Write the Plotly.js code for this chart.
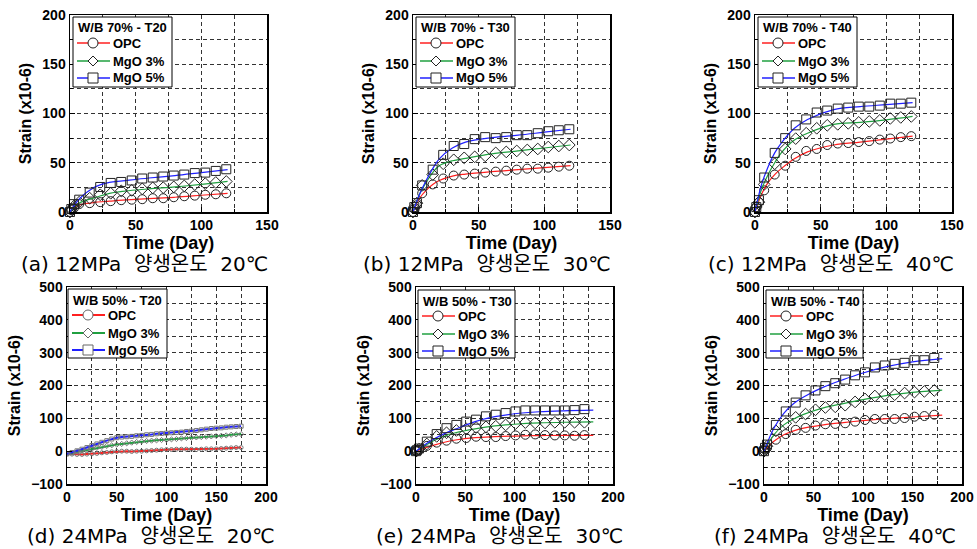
<!DOCTYPE html>
<html><head><meta charset="utf-8">
<script src="https://cdn.plot.ly/plotly-3.0.1.min.js"></script>
<style>body{margin:0;background:#fff}#c{width:977px;height:549px}</style>
</head><body><div id="c"></div>
<script>
// ---------- DATA ----------
// Top row (W/B 70%): marker times and fit-curve times (days)
const tTop   = [0, 1, 3, 7, 15, 23, 31, 39, 47, 55, 63, 71, 79, 87, 95, 103, 111, 119];
const fitTop = [0, 5, 10, 15, 20, 30, 40, 60, 80, 100, 120];
// (a) T20
const aOPC = [0, 2, 4, 8, 9, 10, 11, 12, 12.5, 13, 14, 14, 15, 16, 16.6, 17.5, 18, 19];
const aMg3 = [0, 3, 6, 10, 14, 17.5, 19, 21.5, 22, 23.5, 24.5, 24.7, 25.5, 26.5, 27.8, 28.8, 30, 31];
const aMg5 = [0, 3, 8, 12.5, 19.7, 25.4, 29.5, 30.5, 32, 34, 35, 36, 37, 38, 39.5, 40, 41.7, 43.4];
const aFitOPC = [0, 6, 8, 9, 10, 11, 12, 13.5, 15, 17, 19];
const aFitMg3 = [0, 7, 11, 13, 15, 19, 21, 23.5, 25.5, 28, 31];
const aFitMg5 = [0, 10, 17, 22, 26, 30, 31.5, 34.5, 37, 40, 43];
// (b) T30
const bOPC = [0, 3, 7, 19, 28, 34, 37, 38, 39, 40, 41, 42, 43, 44, 44, 45, 46, 47];
const bMg3 = [0, 5, 9, 27, 38, 49, 53, 55, 56, 57, 60, 61, 62, 63, 64, 66, 67, 68];
const bMg5 = [0, 5, 9, 27, 43, 58, 67, 69, 74, 76, 75, 76, 78, 78, 80, 82, 83, 84];
const bFitOPC = [0, 14, 22, 28, 32, 36.5, 38.5, 41, 43, 45, 47];
const bFitMg3 = [0, 18, 30, 40, 47, 52, 54.5, 59, 62, 65, 68];
const bFitMg5 = [0, 18, 32, 44, 54, 65, 71, 75.5, 78, 81, 84];
// (c) T40
const cOPC = [0, 5, 10, 22, 38, 47, 56, 62, 64, 68, 69.5, 70, 71, 72, 73.5, 74.6, 76, 77];
const cMg3 = [0, 5, 10, 28, 49, 64, 74.5, 80, 85, 88, 89, 90, 91, 92, 93, 95, 96, 97];
const cMg5 = [0, 5, 12, 35, 60, 75, 88, 94, 101, 103, 105, 106, 107, 107, 108, 110, 110, 111];
const cFitOPC = [0, 18, 30, 38, 44, 54, 61, 68, 71, 74, 77];
const cFitMg3 = [0, 23, 38, 50, 60, 73, 80, 89, 91, 93.5, 97];
const cFitMg5 = [0, 28, 46, 60, 70, 85, 94, 104, 107, 109, 111];

// Bottom row (W/B 50%)
// (d) T20 : dense measurements
const tD = [0,5,10,15,20,25,30,35,40,45,50,55,60,65,70,75,80,85,90,95,100,105,110,115,120,125,130,135,140,145,150,155,160,165,170,175];
const dOPC = [-8,-9,-10,-10,-9,-8,-7,-5,-4,-2,-1,0,0,-1,0,0,1,2,3,4,5,5,6,6,6,6,5,6,7,7,7,8,9,10,11,11];
const dMg3 = [-8,-5,-2,1,4,7,10,13,16,18,20,22,24,26,28,30,31,32,33,34,34,36,37,39,40,41,42,43,44,45,46,47,48,50,51,52];
const dMg5 = [-8,-4,1,6,11,17,22,27,32,37,41,43,44,45,47,48,50,51,53,54,55,56,57,58,60,61,63,65,67,69,70,71,73,74,75,76];
// (e) T30
const tE = [0, 1, 3, 11, 21, 31, 41, 51, 61, 71, 81, 91, 101, 111, 121, 131, 141, 151, 161, 171];
const fitBot = [0, 10, 20, 30, 40, 60, 80, 100, 125, 150, 180];
const eOPC = [0, 2, 4, 16, 26, 32, 38, 40, 44, 43, 43, 46, 48, 50, 51, 49, 48, 48, 47, 49];
const eMg3 = [0, 2, 6, 22, 45, 56, 63, 68, 72, 74, 76, 80, 84, 87, 86, 86, 88, 88, 88, 88];
const eMg5 = [0, 3, 8, 29, 52, 70, 80, 90, 96, 106, 111, 116, 121, 124, 124, 124, 124, 124, 125, 128];
const eFitOPC = [0, 11, 20, 28, 34, 41, 44, 46, 47.5, 48, 48];
const eFitMg3 = [0, 18, 35, 47, 56, 68, 77, 82, 86, 88, 89];
const eFitMg5 = [0, 22, 40, 55, 67, 90, 105, 114, 120, 123, 125];
// (f) T40
const tF = [0, 1, 3, 12, 22, 32, 42, 52, 62, 72, 82, 92, 102, 112, 122, 132, 142, 152, 162, 172];
const fOPC = [0, 5, 10, 35, 52, 65, 71, 78, 82, 83, 85, 90, 95, 98, 98, 98, 101, 105, 107, 111];
const fMg3 = [0, 8, 15, 62, 85, 103, 113, 126, 133, 135, 140, 150, 159, 168, 172, 172, 177, 180, 182, 185];
const fMg5 = [0, 10, 20, 80, 121, 148, 170, 185, 198, 207, 218, 231, 240, 255, 261, 266, 269, 277, 277, 284];
const fFitOPC = [0, 30, 50, 62, 70, 80, 87, 93, 99, 104, 110];
const fFitMg3 = [0, 50, 80, 98, 112, 132, 145, 157, 170, 179, 186];
const fFitMg5 = [0, 70, 115, 145, 165, 195, 218, 238, 258, 272, 282];

const seriesNames = ['OPC', 'MgO 3%', 'MgO 5%'];
const legendTitles = ['W/B 70% - T20','W/B 70% - T30','W/B 70% - T40','W/B 50% - T20','W/B 50% - T30','W/B 50% - T40'];
const captions = ['(a) 12MPa  양생온도  20℃','(b) 12MPa  양생온도  30℃','(c) 12MPa  양생온도  40℃',
                  '(d) 24MPa  양생온도  20℃','(e) 24MPa  양생온도  30℃','(f) 24MPa  양생온도  40℃'];

// ---------- LAYOUT / STYLE ----------
const W = 977, H = 549;
const px = v => v / W, py = v => 1 - v / H;
const colors = ['#ff2020', '#20a040', '#2020ff'];
const symbols = ['circle-open', 'diamond-open', 'square-open'];
const FONT = 'Liberation Sans, Arial, sans-serif';
const GRID = '#333';

const panels = [
  {tM: tTop, m: [aOPC, aMg3, aMg5], tFit: fitTop, f: [aFitOPC, aFitMg3, aFitMg5], box: [70, 267, 15, 212], top: true, leg: [73, 17, 99, 70], cap: [144, 264]},
  {tM: tTop, m: [bOPC, bMg3, bMg5], tFit: fitTop, f: [bFitOPC, bFitMg3, bFitMg5], box: [413, 610, 15, 212], top: true, leg: [416, 17, 99, 70], cap: [487, 264]},
  {tM: tTop, m: [cOPC, cMg3, cMg5], tFit: fitTop, f: [cFitOPC, cFitMg3, cFitMg5], box: [755, 952, 15, 212], top: true, leg: [758, 17, 99, 70], cap: [831, 264]},
  {tM: tD,   m: [dOPC, dMg3, dMg5], tFit: null,   f: null, box: [67, 266, 287, 484], top: false, leg: [68, 289, 99, 69], cap: [151, 536], dense: true},
  {tM: tE,   m: [eOPC, eMg3, eMg5], tFit: fitBot, f: [eFitOPC, eFitMg3, eFitMg5], box: [416, 613, 287, 484], top: false, leg: [418, 290, 97, 68], cap: [499, 536]},
  {tM: tF,   m: [fOPC, fMg3, fMg5], tFit: fitBot, f: [fFitOPC, fFitMg3, fFitMg5], box: [764, 962, 287, 484], top: false, leg: [766, 290, 97, 68], cap: [835, 536]},
];

const data = [];
const layout = {
  width: W, height: H, margin: {l: 0, r: 0, t: 0, b: 0},
  paper_bgcolor: '#fff', plot_bgcolor: '#fff', showlegend: false,
  font: {family: FONT, color: '#000'},
  annotations: [], shapes: [],
};

panels.forEach((p, i) => {
  const n = i + 1;
  const xa = 'x' + (n === 1 ? '' : n), ya = 'y' + (n === 1 ? '' : n);
  const xk = 'xaxis' + (n === 1 ? '' : n), yk = 'yaxis' + (n === 1 ? '' : n);
  const [x0, x1, y0, y1] = p.box;
  const common = {
    showline: true, mirror: true, linecolor: '#000', linewidth: 1.5,
    ticks: 'inside', ticklen: 5, tickcolor: '#000',
    showgrid: true, gridcolor: GRID, griddash: '4px,3px', gridwidth: 1,
    zeroline: false, automargin: false,
    tickfont: {family: FONT, size: 14, weight: 'bold', color: '#000'},
  };
  layout[xk] = Object.assign({}, common, {
    domain: [px(x0), px(x1)], anchor: ya,
    range: p.top ? [0, 150] : [0, 200], dtick: 50, tick0: 0,
    minor: {dtick: 25, showgrid: true, gridcolor: GRID, griddash: '4px,3px', gridwidth: 1, ticks: 'inside', ticklen: 3},
    title: {text: 'Time (Day)', font: {family: FONT, size: 18, weight: 'bold'}, standoff: 1},
  });
  layout[yk] = Object.assign({}, common, {
    domain: [py(y1), py(y0)], anchor: xa,
    range: p.top ? [0, 200] : [-100, 500], dtick: p.top ? 50 : 100, tick0: 0,
    minor: {dtick: p.top ? 25 : 50, showgrid: true, gridcolor: GRID, griddash: '4px,3px', gridwidth: 1, ticks: 'inside', ticklen: 3},
    title: {text: 'Strain (x10-6)', font: {family: FONT, size: 16, weight: 'bold'}, standoff: 6},
  });
  // caption
  layout.annotations.push({
    xref: 'paper', yref: 'paper', x: px(p.cap[0]), y: py(p.cap[1]),
    xanchor: 'center', yanchor: 'middle', showarrow: false,
    text: captions[i].replace(/ /g, '\u00a0'),
    font: {family: 'DejaVu Sans, Noto Sans CJK KR, sans-serif', size: 20, color: '#000'},
  });

  // data traces
  for (let s = 0; s < 3; s++) {
    if (p.dense) {
      data.push({
        x: p.tM, y: p.m[s], xaxis: xa, yaxis: ya, mode: 'lines+markers',
        line: {color: colors[s], width: 2},
        marker: {symbol: symbols[s], size: 4, color: '#777', line: {width: 1, color: '#777'}},
        hoverinfo: 'skip',
      });
    } else {
      data.push({
        x: p.tFit, y: p.f[s], xaxis: xa, yaxis: ya, mode: 'lines',
        line: {color: colors[s], width: 1.2, shape: 'spline', smoothing: 1}, hoverinfo: 'skip',
      });
      data.push({
        x: p.tM, y: p.m[s], xaxis: xa, yaxis: ya, mode: 'markers',
        marker: {symbol: symbols[s], size: 9, color: '#222', line: {width: 1, color: '#222'}},
        cliponaxis: false, hoverinfo: 'skip',
      });
    }
  }

  // legend box (drawn as layout decoration)
  const [lx, ly, lw, lh] = p.leg;
  layout.shapes.push({type: 'rect', xref: 'paper', yref: 'paper', x0: px(lx), x1: px(lx + lw), y0: py(ly + lh), y1: py(ly),
    line: {color: '#000', width: 1}, fillcolor: '#fff', layer: 'above'});
  layout.annotations.push({xref: 'paper', yref: 'paper', x: px(lx + 3), y: py(ly + 11), xanchor: 'left', yanchor: 'middle',
    showarrow: false, text: legendTitles[i], font: {family: FONT, size: 13, weight: 'bold', color: '#000'}});
  const rowOff = [26, 44, 61];
  const mkCol = p.dense ? '#666' : '#222';
  for (let s = 0; s < 3; s++) {
    const cy = ly + rowOff[s];
    const mx = lx + 20, r = 5;
    layout.shapes.push({type: 'line', xref: 'paper', yref: 'paper', x0: px(lx + 4), x1: px(lx + 37), y0: py(cy), y1: py(cy),
      line: {color: colors[s], width: p.dense ? 2 : 1.3}, layer: 'above'});
    if (s === 0) {
      layout.shapes.push({type: 'circle', xref: 'paper', yref: 'paper', x0: px(mx - r), x1: px(mx + r), y0: py(cy + r), y1: py(cy - r),
        line: {color: mkCol, width: 1}, fillcolor: '#fff', layer: 'above'});
    } else if (s === 1) {
      const d = 5;
      layout.shapes.push({type: 'path', xref: 'paper', yref: 'paper',
        path: `M${px(mx)},${py(cy - d)} L${px(mx + d)},${py(cy)} L${px(mx)},${py(cy + d)} L${px(mx - d)},${py(cy)} Z`,
        line: {color: mkCol, width: 1}, fillcolor: '#fff', layer: 'above'});
    } else {
      layout.shapes.push({type: 'rect', xref: 'paper', yref: 'paper', x0: px(mx - r), x1: px(mx + r), y0: py(cy + r), y1: py(cy - r),
        line: {color: mkCol, width: 1}, fillcolor: '#fff', layer: 'above'});
    }
    layout.annotations.push({xref: 'paper', yref: 'paper', x: px(lx + 38), y: py(cy), xanchor: 'left', yanchor: 'middle',
      showarrow: false, text: seriesNames[s], font: {family: FONT, size: 13, weight: 'bold', color: '#000'}});
  }
});

Plotly.newPlot('c', data, layout, {staticPlot: true});
</script>
</body></html>
